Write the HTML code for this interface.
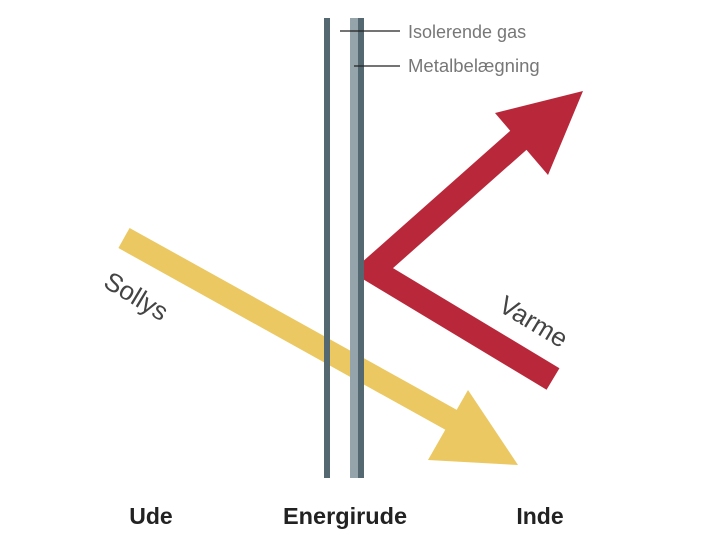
<!DOCTYPE html>
<html><head><style>body{margin:0;background:#fff}svg{display:block}</style></head><body>
<svg width="720" height="541" viewBox="0 0 720 541" xmlns="http://www.w3.org/2000/svg">
<defs><clipPath id="c"><rect x="364" y="0" width="400" height="541"/></clipPath></defs>
<line x1="124" y1="238" x2="455" y2="422" stroke="#ebc862" stroke-width="23"/>
<polygon points="518,465 468,390 428,460" fill="#ebc862"/>
<polyline clip-path="url(#c)" points="553,379 372,270 530,130" fill="none" stroke="#b9283a" stroke-width="25" stroke-linejoin="miter" stroke-miterlimit="10"/>
<polygon points="583,91 495,113 548,175" fill="#b9283a"/>
<rect x="324" y="18" width="6" height="460" fill="#546872"/>
<rect x="350" y="18" width="8" height="460" fill="#95a3aa"/>
<rect x="358" y="18" width="6" height="460" fill="#546872"/>
<line x1="340" y1="31" x2="400" y2="31" stroke="#222" stroke-width="1.2"/>
<line x1="354" y1="66" x2="400" y2="66" stroke="#222" stroke-width="1.2"/>
<g font-family="Liberation Sans, sans-serif">
<text x="408" y="38" font-size="18" fill="#777">Isolerende gas</text>
<text x="408" y="72" font-size="18.5" fill="#777">Metalbelægning</text>
<text transform="translate(102,286) rotate(31)" font-size="26" fill="#444">Sollys</text>
<text transform="translate(497,310) rotate(31)" font-size="26" fill="#444">Varme</text>
<text x="151" y="524" font-size="23" font-weight="bold" fill="#222" text-anchor="middle">Ude</text>
<text x="345" y="524" font-size="23.5" font-weight="bold" fill="#222" text-anchor="middle">Energirude</text>
<text x="540" y="524" font-size="23" font-weight="bold" fill="#222" text-anchor="middle">Inde</text>
</g>
</svg>
</body></html>
